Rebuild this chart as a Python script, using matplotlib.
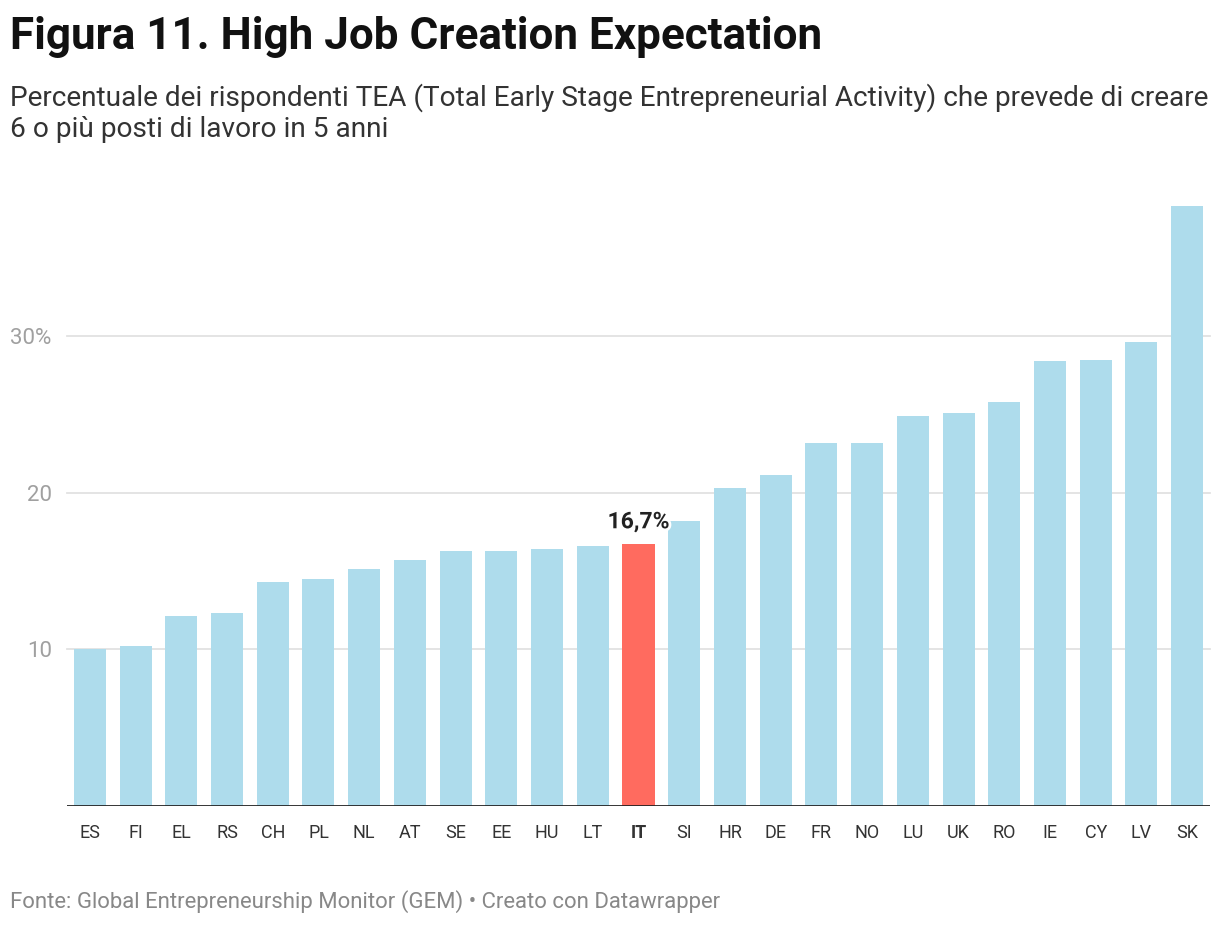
import matplotlib
matplotlib.use("Agg")
import matplotlib.pyplot as plt
import matplotlib.patheffects as pe

countries = ["ES", "FI", "EL", "RS", "CH", "PL", "NL", "AT", "SE", "EE", "HU", "LT", "IT",
             "SI", "HR", "DE", "FR", "NO", "LU", "UK", "RO", "IE", "CY", "LV", "SK"]
values = [10.0, 10.2, 12.1, 12.3, 14.3, 14.5, 15.1, 15.7, 16.3, 16.3, 16.4, 16.6, 16.7,
          18.2, 20.3, 21.1, 23.2, 23.2, 24.9, 25.1, 25.8, 28.4, 28.5, 29.6, 38.3]
highlight = "IT"
yticks = [10, 20, 30]
ytick_labels = ["10", "20", "30%"]

title = "Figura 11. High Job Creation Expectation"
subtitle = ("Percentuale dei rispondenti TEA (Total Early Stage Entrepreneurial Activity) che prevede di creare\n"
            "6 o più posti di lavoro in 5 anni")
footer = "Fonte: Global Entrepreneurship Monitor (GEM) • Creato con Datawrapper"

plt.rcParams['font.family'] = ['Roboto', 'DejaVu Sans']

W, H = 1220, 926
fig = plt.figure(figsize=(W / 100, H / 100), dpi=100)
left, right, bottom, top = 67, 1210, 806, 206
ax = fig.add_axes([left / W, (H - bottom) / H, (right - left) / W, (bottom - top) / H])

colors = ["#ff6b5f" if c == highlight else "#aedcec" for c in countries]
x = list(range(len(countries)))
ax.bar(x, values, width=0.70, color=colors, zorder=2)
ax.set_xlim(-0.5, len(countries) - 0.5)
ax.set_ylim(0, max(values))

for y in yticks:
    ax.axhline(y, color="#e2e2e2", lw=1.3, zorder=1, clip_on=False)
ax.axhline(0, color="#222222", lw=2, zorder=3)

ax.set_yticks(yticks)
ax.set_yticklabels(ytick_labels)
ax.tick_params(axis="y", length=0, pad=11, labelsize=16, labelcolor="#a0a0a0")
ax.set_xticks(x)
ax.set_xticklabels(countries)
ax.tick_params(axis="x", length=0, pad=13, labelsize=13, labelcolor="#333333")
for lbl in ax.get_xticklabels():
    if lbl.get_text() == highlight:
        lbl.set_fontweight("bold")
for s in ax.spines.values():
    s.set_visible(False)

i = countries.index(highlight)
ax.annotate(f"{values[i]:.1f}%".replace(".", ","), xy=(i, values[i]), xytext=(0, 8),
            textcoords="offset points", ha="center", va="bottom", fontsize=16.5,
            fontweight="bold", color="#222222", zorder=5,
            path_effects=[pe.withStroke(linewidth=4, foreground="white")])

fig.text(10 / W, 1 - 37 / H, title, fontsize=31.7, fontweight="bold", color="#111111",
         ha="left", va="center")
fig.text(10 / W, 1 - 83 / H, subtitle, fontsize=20.2, color="#333333", ha="left", va="top",
         linespacing=1.22)
fig.text(10 / W, 1 - 902 / H, footer, fontsize=15.9, color="#888888", ha="left", va="center")

fig.savefig("out.png", dpi=100, facecolor="white")
